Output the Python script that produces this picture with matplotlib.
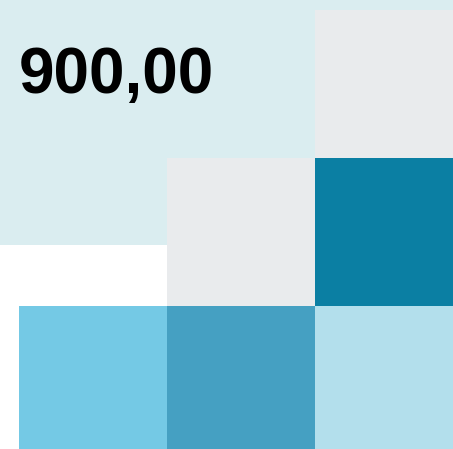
import numpy as np
import matplotlib
matplotlib.use("Agg")
import matplotlib.pyplot as plt
from matplotlib.colors import ListedColormap, BoundaryNorm
from matplotlib.patches import Rectangle

# cell values (NaN = empty cell), row 0 at top
values = np.array([
    [np.nan, np.nan, 0],
    [np.nan, 0, 4],
    [2, 3, 1],
])
level_colors = ["#e9ebed", "#b3dfec", "#74c9e5", "#45a0c2", "#0b7fa3"]
label_text = "900,00"

W, H = 453, 449
cell = 148.0
x0, y0 = 19, 10  # grid origin in pixels

fig = plt.figure(figsize=(W / 100, H / 100), dpi=100)
ax = fig.add_axes([0, 0, 1, 1])
ax.set_xlim(-x0 / cell, (W - x0) / cell)
ax.set_ylim((H - y0) / cell, -y0 / cell)
ax.axis("off")

# light tooltip-like background block
ax.add_patch(Rectangle((-x0 / cell, -y0 / cell), W / cell, 245 / cell,
                       facecolor="#daedf0", edgecolor="none", zorder=0))

cmap = ListedColormap(level_colors)
norm = BoundaryNorm(np.arange(-0.5, len(level_colors) + 0.5), cmap.N)
masked = np.ma.masked_invalid(values)
ax.pcolormesh(np.arange(4), np.arange(4), masked, cmap=cmap, norm=norm,
              edgecolor="none", zorder=1)

fig.text(19 / W, 1 - 93 / H, label_text, fontsize=46, fontweight="bold",
         family="Liberation Sans", color="black", ha="left", va="baseline")

fig.savefig("out.png", dpi=100)
